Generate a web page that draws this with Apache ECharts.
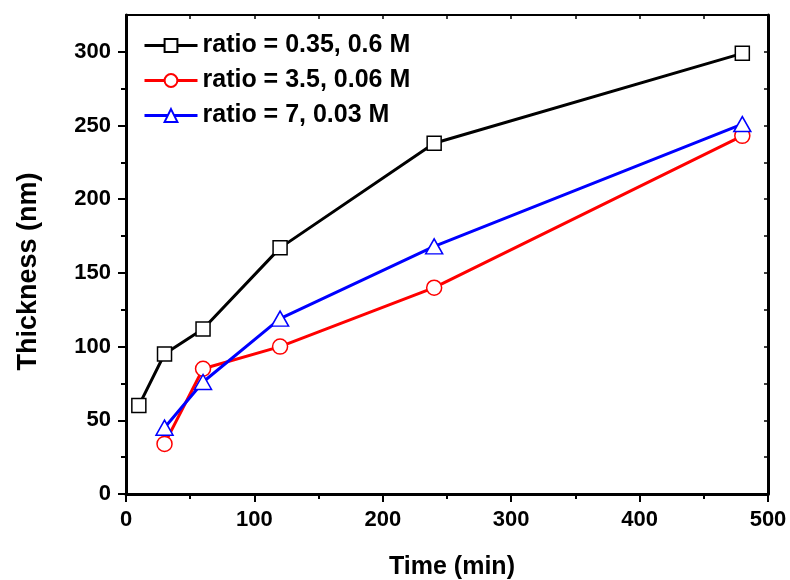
<!DOCTYPE html>
<html>
<head>
<meta charset="utf-8">
<script src="https://cdn.jsdelivr.net/npm/echarts@6/dist/echarts.min.js"></script>
<style>
html,body{margin:0;padding:0;background:#fff;}
#chart{width:790px;height:580px;}
</style>
</head>
<body>
<div id="chart"></div>
<script>
// ---- data ----
const seriesNames = ['ratio = 0.35, 0.6 M', 'ratio = 3.5, 0.06 M', 'ratio = 7, 0.03 M'];
const timeA = [10, 30, 60, 120, 240, 480];
const thickA = [60, 95, 112, 167, 238, 299];
const timeB = [30, 60, 120, 240, 480];
const thickB = [34, 85, 100, 140, 243];
const timeC = [30, 60, 120, 240, 480];
const thickC = [45, 76, 119, 168, 251];
const yMajorTicks = [0, 50, 100, 150, 200, 250, 300];
const yMinorTicks = [25, 75, 125, 175, 225, 275];
const xTickLabels = [0, 100, 200, 300, 400, 500];

function pairs(xs, ys) { return xs.map((x, i) => [x, ys[i]]); }

const FONT = 'Liberation Sans, Arial, sans-serif';
const chart = echarts.init(document.getElementById('chart'), null, {renderer: 'canvas'});

const option = {
  backgroundColor: '#fff',
  animation: false,
  grid: {left: 126, right: 22, top: 15, bottom: 86, containLabel: false, outerBoundsMode: 'none'},
  legend: {
    orient: 'vertical',
    left: 143,
    top: 33,
    padding: 0,
    itemWidth: 53,
    itemHeight: 16,
    itemGap: 10,
    lineStyle: {width: 3},
    textStyle: {fontFamily: FONT, fontWeight: 'bold', fontSize: 25, color: '#000'},
    data: seriesNames
  },
  xAxis: [
    {
      type: 'value', position: 'bottom', min: 0, max: 500, interval: 100,
      name: 'Time (min)', nameLocation: 'middle', nameGap: 61,
      nameTextStyle: {fontFamily: FONT, fontWeight: 'bold', fontSize: 25, color: '#000', padding: [0, 0, 0, 10]},
      axisLine: {show: true, onZero: false, lineStyle: {color: '#000', width: 3}},
      axisTick: {show: true, inside: false, length: 8, lineStyle: {color: '#000', width: 2}},
      minorTick: {show: true, splitNumber: 2, length: 5, lineStyle: {color: '#000', width: 2}},
      axisLabel: {show: true, margin: 15, fontFamily: FONT, fontWeight: 'bold', fontSize: 22, color: '#000',
        customValues: xTickLabels},
      splitLine: {show: false}
    },
    {
      type: 'value', position: 'top', min: 0, max: 500, interval: 50,
      axisLine: {show: true, onZero: false, lineStyle: {color: '#000', width: 2}},
      axisTick: {show: true, inside: true, length: 4, lineStyle: {color: '#000', width: 1.5}},
      axisLabel: {show: false},
      splitLine: {show: false}
    }
  ],
  yAxis: [
    {
      type: 'value', position: 'left', min: 0, max: 325, interval: 25,
      name: 'Thickness (nm)', nameLocation: 'middle', nameGap: 84, nameRotate: 90,
      nameTextStyle: {fontFamily: FONT, fontWeight: 'bold', fontSize: 27, color: '#000', padding: [0, 34, 0, 0]},
      axisLine: {show: true, onZero: false, lineStyle: {color: '#000', width: 3}},
      axisTick: {show: true, inside: false, length: 8, customValues: yMajorTicks, lineStyle: {color: '#000', width: 2}},
      axisLabel: {show: true, margin: 15, fontFamily: FONT, fontWeight: 'bold', fontSize: 22, color: '#000',
        customValues: yMajorTicks},
      splitLine: {show: false}
    },
    {
      type: 'value', position: 'left', min: 0, max: 325, interval: 25,
      axisLine: {show: false},
      axisTick: {show: true, inside: false, length: 5, customValues: yMinorTicks, lineStyle: {color: '#000', width: 2}},
      axisLabel: {show: false},
      splitLine: {show: false}
    },
    {
      type: 'value', position: 'right', min: 0, max: 325, interval: 25,
      axisLine: {show: true, onZero: false, lineStyle: {color: '#000', width: 3}},
      axisTick: {show: true, inside: true, length: 4, lineStyle: {color: '#000', width: 1.5}},
      axisLabel: {show: false},
      splitLine: {show: false}
    }
  ],
  series: [
    {
      name: seriesNames[0], type: 'line', xAxisIndex: 0, yAxisIndex: 0,
      data: pairs(timeA, thickA),
      symbol: 'rect', symbolSize: 14,
      itemStyle: {color: '#fff', borderColor: '#000', borderWidth: 1.5},
      lineStyle: {color: '#000', width: 3},
      z: 3
    },
    {
      name: seriesNames[1], type: 'line', xAxisIndex: 0, yAxisIndex: 0,
      data: pairs(timeB, thickB),
      symbol: 'circle', symbolSize: 15,
      itemStyle: {color: '#fff', borderColor: '#ff0000', borderWidth: 1.5},
      lineStyle: {color: '#ff0000', width: 3},
      z: 4
    },
    {
      name: seriesNames[2], type: 'line', xAxisIndex: 0, yAxisIndex: 0,
      data: pairs(timeC, thickC),
      symbol: 'triangle', symbolSize: [17, 15],
      itemStyle: {color: '#fff', borderColor: '#0000ff', borderWidth: 1.5},
      lineStyle: {color: '#0000ff', width: 3},
      z: 5
    }
  ]
};
chart.setOption(option);
</script>
</body>
</html>
